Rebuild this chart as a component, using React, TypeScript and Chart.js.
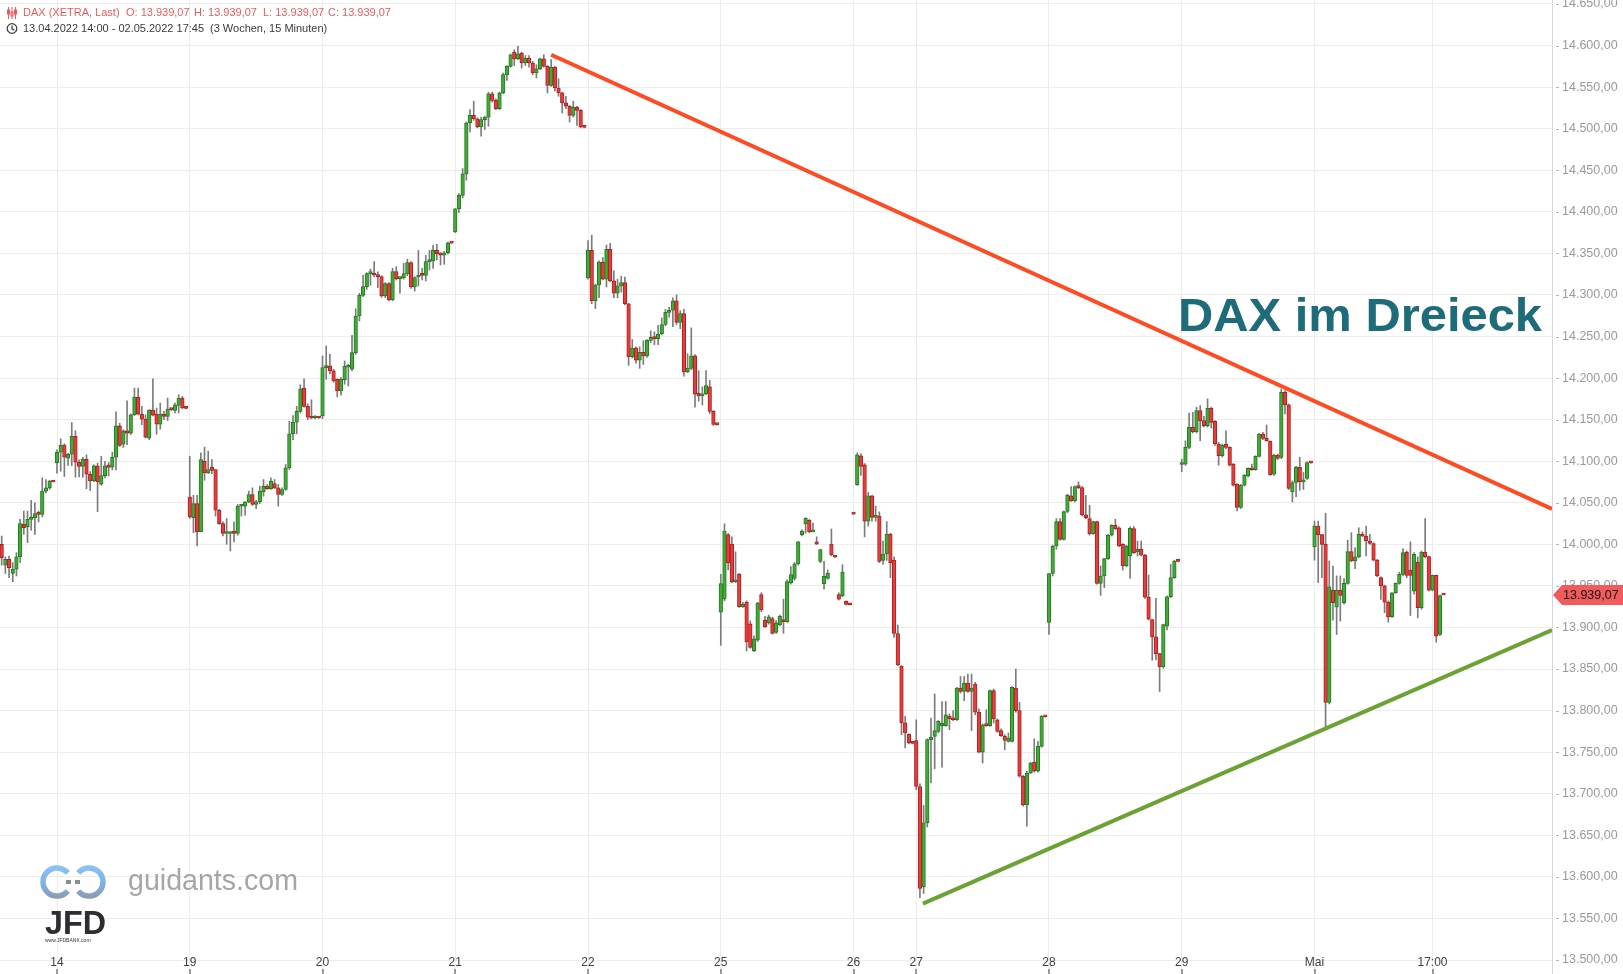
import React, { useEffect, useRef } from 'react';
import { Chart, registerables } from 'chart.js';

Chart.register(...registerables);

// ---- Candles per trading day: [open, high, low, close] (15-minute bars) ----
const d13 = [
  [13975, 13990, 13960, 13985], [14000, 14010, 13975, 13984], [13975, 13985, 13965, 13982], [13982, 13986, 13960, 13972],
  [13965, 13978, 13955, 13970], [13970, 13990, 13962, 13985], [13985, 14030, 13978, 14025], [14024, 14040, 14012, 14020],
  [14021, 14040, 14002, 14030], [14030, 14053, 14017, 14032], [14032, 14050, 14012, 14037], [14037, 14040, 14027, 14036],
  [14036, 14080, 14033, 14064], [14064, 14078, 14062, 14068], [14068, 14077, 14066, 14076], [14076, 14077, 14075, 14075],
];
const d14 = [
  [14098.4, 14113.7, 14085.5, 14110.8], [14110.8, 14127, 14088, 14119.3], [14119.3, 14121, 14081.5, 14104.8], [14103.6, 14109.6, 14094.8, 14108.4],
  [14108.4, 14146.6, 14094.8, 14130], [14130, 14136.5, 14080.7, 14098.8], [14098.8, 14101.6, 14081, 14093.6], [14093.6, 14104.8, 14080.7, 14102.4],
  [14102.4, 14107.6, 14066.7, 14084.3], [14084.3, 14087.5, 14064.7, 14076.7], [14076.7, 14095.6, 14075.5, 14094.4], [14094.4, 14097.6, 14039.4, 14075.5],
  [14072.3, 14106, 14071, 14082.7], [14082.7, 14100, 14080, 14094.4], [14095.6, 14098.4, 14082.3, 14092.4], [14092.8, 14110.8, 14089.6, 14104.8],
  [14104.8, 14159.4, 14089.6, 14142.6], [14142.6, 14145.8, 14117.7, 14118.9], [14120.5, 14137.8, 14116.5, 14136.5], [14136.5, 14172.7, 14120, 14133.7],
  [14133.7, 14157, 14132, 14155.8], [14155.8, 14188, 14155, 14177.1], [14177.1, 14188, 14155.8, 14156.6], [14156.6, 14165.9, 14143.8, 14150.6],
  [14150.6, 14155.8, 14127.7, 14128.9], [14127.7, 14162, 14126, 14161.4], [14161.4, 14199, 14154.6, 14155.4], [14156.6, 14164, 14132.5, 14144.6],
  [14144.6, 14170, 14138.6, 14156.6], [14156.6, 14160, 14150, 14153.8], [14153.8, 14176, 14149, 14162.6], [14162.6, 14163, 14161, 14162],
  [14161, 14170, 14158, 14167.9], [14167, 14180, 14158, 14176], [14176, 14178, 14163, 14164], [14164, 14164.5, 14163, 14163.5],
];
const d19 = [
  [14057, 14106, 14031, 14033], [14032, 14059, 14014, 14049], [14049, 14059, 13998, 14015], [14015, 14110, 14015, 14102],
  [14100, 14117, 14077, 14086], [14086, 14112, 14085, 14090], [14093, 14102, 14085, 14089], [14090, 14090, 14034, 14041],
  [14041, 14042, 14024, 14025], [14025, 14027, 14010, 14013], [14013, 14031, 14000, 14014], [14013, 14015, 13992, 14015],
  [14016, 14027, 14003, 14013], [14013, 14048, 14011, 14046], [14046, 14048, 14034, 14047], [14046, 14051, 14035, 14051],
  [14051, 14064, 14050, 14060], [14060, 14068, 14047, 14048], [14048, 14053, 14043, 14051], [14051, 14070, 14049, 14064],
  [14063, 14078, 14058, 14070], [14070, 14072, 14066, 14067], [14067, 14080, 14066, 14076], [14073, 14078, 14067, 14068],
  [14068, 14072, 14046, 14060], [14060, 14068, 14059, 14066], [14066, 14096, 14065, 14092], [14092, 14148, 14090, 14133],
  [14133, 14155, 14126, 14147], [14147, 14166, 14133, 14160], [14160, 14192, 14158, 14187], [14188, 14199, 14165, 14166],
  [14166, 14169, 14150, 14153], [14153, 14174, 14151, 14152], [14152, 14155, 14151, 14153], [14153, 14153.5, 14151.5, 14152],
];
const d20 = [
  [14154.5, 14226.6, 14151.3, 14212.6], [14212.6, 14238.6, 14198.6, 14214.6], [14214.6, 14228.6, 14205, 14208.6], [14208.6, 14210.6, 14195, 14196.6],
  [14198.6, 14199, 14177.4, 14184.6], [14184.6, 14200.6, 14179.4, 14198.6], [14198.2, 14220.6, 14192.6, 14214.2], [14213, 14216.6, 14190.6, 14214.6],
  [14210.6, 14251.5, 14209, 14230.6], [14230.6, 14283.5, 14228.6, 14274.7], [14274.7, 14302, 14268.7, 14299.5], [14299.5, 14323.6, 14298, 14310],
  [14310, 14326.8, 14306.8, 14325.6], [14325.6, 14331, 14311.6, 14326], [14326, 14340, 14322, 14324], [14324, 14327.8, 14308.8, 14322],
  [14322, 14323, 14297, 14298.7], [14298.7, 14314.8, 14296.7, 14313.6], [14313.6, 14315, 14293, 14294], [14294, 14332, 14293, 14328],
  [14328, 14334, 14318, 14319.6], [14319.6, 14322, 14302, 14321.6], [14320.4, 14338, 14319, 14325.6], [14325.6, 14343, 14323, 14339],
  [14339, 14340, 14308, 14309.6], [14309.6, 14322, 14304.7, 14320.8], [14321.6, 14353.6, 14310.8, 14324], [14324, 14332, 14318, 14323.5],
  [14323.5, 14347.6, 14316.8, 14340], [14340, 14353.6, 14330, 14341], [14341, 14359.6, 14332, 14353.6], [14353.6, 14360.8, 14342, 14349.6],
  [14349.6, 14351, 14336, 14348], [14348, 14352.4, 14336.8, 14350.8], [14350.8, 14363.6, 14349, 14362.8], [14362.8, 14363, 14362, 14362.4],
];
const d21 = [
  [14375.7, 14404, 14375, 14403.7], [14403.7, 14422, 14399, 14419.7], [14419.7, 14452, 14416.9, 14445.7], [14445.7, 14508, 14438, 14507],
  [14507, 14523, 14496, 14516], [14516, 14533, 14510, 14512], [14512, 14513, 14501, 14502], [14502, 14514, 14491, 14511],
  [14511, 14515, 14499, 14514], [14514, 14544, 14503, 14542], [14542, 14544, 14532, 14534], [14534, 14536, 14523, 14524],
  [14524, 14544, 14523, 14543], [14543, 14567, 14542, 14565], [14565, 14576, 14558, 14575], [14575, 14590, 14574, 14589],
  [14592, 14595, 14576, 14584], [14584, 14599, 14583, 14590], [14591, 14592, 14573, 14579], [14579, 14588, 14576, 14585],
  [14585, 14588, 14574, 14579], [14579, 14581, 14565, 14567], [14567, 14577, 14561, 14572], [14572, 14585, 14571, 14584],
  [14584, 14589, 14574, 14575], [14575, 14576, 14543, 14552], [14552, 14583, 14551, 14574], [14574, 14575, 14545, 14549],
  [14549, 14560, 14539, 14543], [14543, 14544, 14519, 14531], [14531, 14539, 14524, 14527], [14527, 14528, 14508, 14516],
  [14516, 14533, 14514, 14526], [14526, 14527, 14504, 14522], [14522, 14523, 14501, 14502], [14502, 14502.5, 14501, 14501.5],
];
const d22 = [
  [14320.5, 14365.5, 14319, 14353.6], [14353.6, 14372, 14289.4, 14293], [14293, 14313, 14283.7, 14312], [14312, 14341, 14296.6, 14339.6],
  [14339.6, 14345, 14318, 14319], [14319, 14360, 14309.6, 14355], [14355, 14362, 14316, 14317], [14317, 14329, 14296.6, 14302],
  [14302, 14319, 14296.6, 14311], [14311, 14322.5, 14303.4, 14315], [14315, 14321.5, 14288, 14289.4], [14289.4, 14290, 14215.3, 14225.7],
  [14225.7, 14246.4, 14224, 14236], [14236, 14237.6, 14218, 14221.5], [14221.5, 14237.6, 14211.7, 14231], [14231, 14245, 14216.4, 14226.7],
  [14226.7, 14246.4, 14225, 14245.4], [14245.4, 14256.8, 14242.8, 14249], [14249, 14255.7, 14240.2, 14247.5], [14247.5, 14263.5, 14240.2, 14253],
  [14253, 14272.3, 14252, 14264.5], [14264.5, 14282.7, 14263, 14279], [14279, 14285, 14273.3, 14281.6], [14281.6, 14296.6, 14262, 14293],
  [14293, 14300, 14264.5, 14267], [14267, 14281, 14259.4, 14277.5], [14277.5, 14282.7, 14202.4, 14207.5], [14207.5, 14229.3, 14206.5, 14211.7],
  [14211.7, 14260.4, 14210, 14226.7], [14226.7, 14228.3, 14165, 14180.6], [14181.6, 14209, 14172.3, 14178.5], [14178.5, 14189.4, 14167.7, 14181],
  [14181, 14209, 14180, 14191], [14189.4, 14197.2, 14157.3, 14160], [14160, 14161, 14143, 14144.4], [14144.4, 14145, 14143.5, 14144],
];
const d25 = [
  [13918.5, 13964, 13878.6, 13952.7], [13934, 14024.7, 13932, 14016], [14011.7, 14013, 13969.3, 13978], [14000.3, 14009, 13953.7, 13954.8],
  [13954.8, 13991, 13954, 13956], [13964, 13965, 13924, 13925], [13925, 13930.4, 13924, 13927.7], [13930.4, 13932, 13871.7, 13882.5],
  [13904.5, 13908, 13875, 13876], [13872, 13890, 13871, 13886.4], [13884.8, 13930.4, 13883, 13929.4], [13939.7, 13941.8, 13919, 13921],
  [13908.7, 13913.3, 13900, 13900.9], [13905.6, 13915, 13904, 13912.8], [13910.8, 13912.3, 13892, 13893], [13894.2, 13908.2, 13893, 13905.6],
  [13903, 13915, 13902, 13913.3], [13908, 13934, 13893, 13907], [13907, 13957.4, 13906, 13955.3], [13953.7, 13973.4, 13952, 13963.6],
  [13958.9, 13978, 13957, 13976.6], [13976.6, 14003.5, 13975, 14002.9], [14011.7, 14017.5, 14010, 14015.9], [14024.7, 14032, 14013.3, 14031.4],
  [14028.8, 14030, 14014, 14015], [14015, 14025.7, 14015, 14015.9], [14003, 14009, 14000, 14000.3], [13979.6, 13994, 13978, 13993.6],
  [13952.7, 13979.6, 13946, 13961.6], [13959, 13969.3, 13958, 13965.2], [14000.3, 14018.5, 13986, 13987.4], [13985, 13985.5, 13984, 13984.8],
  [13939.7, 13941.8, 13933, 13934], [13938.2, 13975.5, 13937, 13966.7], [13931.5, 13932, 13927, 13927.7], [13927.7, 13928, 13927, 13927.3],
];
const d26 = [
  [14037, 14037.5, 14036, 14036.3], [14071.8, 14110, 14071, 14107.6], [14106.5, 14109, 14083, 14093.6], [14095.7, 14097.2, 14009, 14027.8],
  [14027.8, 14062.5, 14022, 14058.4], [14058.4, 14059, 14027.8, 14032.5], [14032.5, 14046, 14027.8, 14034], [14034, 14039, 13978, 13979.6],
  [13980.7, 14004, 13976, 13988.4], [13988.4, 14027.3, 13980.7, 14012.3], [14012.3, 14013.3, 13960, 13978], [13981.2, 13985, 13888, 13893],
  [13892.6, 13903, 13854, 13855], [13853.7, 13854, 13770.9, 13785.3], [13785.3, 13793, 13755.3, 13773.3], [13771.4, 13772, 13760, 13761],
  [13761, 13761.5, 13760, 13760.5],
];
const d27 = [
  [13764, 13789, 13705, 13708.7], [13708.7, 13712, 13575, 13586], [13588, 13686, 13580, 13665], [13665, 13766, 13660, 13765],
  [13765, 13791, 13713, 13768], [13769, 13820, 13730, 13776], [13775, 13788, 13773, 13787], [13782, 13811, 13732, 13785],
  [13782, 13811, 13781, 13795], [13793, 13796, 13777, 13790], [13790, 13800, 13788, 13789], [13789, 13828, 13788, 13827],
  [13827, 13841, 13821, 13823], [13823, 13841, 13812, 13833], [13833, 13844, 13822, 13823], [13823, 13844, 13776, 13827],
  [13832, 13834, 13795, 13798], [13798, 13802, 13749, 13750], [13750, 13784, 13737, 13783], [13783, 13801, 13781, 13782],
  [13782, 13825, 13781, 13824], [13824, 13826, 13785, 13790], [13789, 13790, 13774, 13775], [13776, 13778, 13769, 13770],
  [13769, 13771, 13753, 13764], [13763, 13773, 13762, 13767], [13763, 13829, 13762, 13828], [13827, 13850, 13798, 13800],
  [13800, 13810, 13720, 13721], [13721, 13722, 13685, 13686.5], [13686.5, 13727, 13661, 13725], [13725, 13738, 13724, 13737],
  [13738, 13766, 13726, 13727], [13727, 13763, 13726, 13757], [13757, 13794, 13756, 13793], [13793, 13793.5, 13792, 13792.5],
];
const d28 = [
  [13906, 13965, 13891.5, 13964.7], [13965, 13999, 13962, 13998], [13998, 14031, 13994, 14027.4], [14027.4, 14031, 14005, 14006],
  [14006, 14040, 14005, 14039.5], [14039.5, 14060.4, 14038, 14059], [14058.3, 14069.6, 14051.5, 14052.3], [14052.3, 14070.4, 14051, 14069.6],
  [14069.6, 14075.2, 14067, 14068.3], [14068.4, 14069.6, 14034, 14035.4], [14035.4, 14059, 14031, 14032], [14031, 14047, 14011, 14012.9],
  [14012.9, 14028, 14012, 14027.4], [14027.4, 14028, 13952, 13953], [13953, 13974, 13938.6, 13961.9], [13961.9, 13983, 13947.8, 13982.8],
  [13982.8, 14012, 13982, 14010.9], [14010.9, 14023.8, 14010, 14023], [14023, 14030.2, 14018, 14019], [14020, 14021, 13997, 13998],
  [14000, 14001, 13969, 13974], [13974, 13999, 13973, 13998], [13986, 14021, 13959, 14019.4], [14019, 14021.4, 13989, 13990],
  [13991, 14004, 13986, 13994], [13994, 14004, 13986, 13987], [13987, 13988, 13935, 13936.5], [13936.5, 13963, 13909, 13910],
  [13909.6, 13910, 13860.6, 13888.7], [13888.7, 13935, 13861, 13868.6], [13868.6, 13869, 13823, 13852.5], [13852.5, 13904, 13851, 13903.6],
  [13901.6, 13938, 13897, 13937], [13937, 13976, 13936, 13960], [13960, 13981, 13959, 13980], [13980, 13980.5, 13979, 13979.5],
];
const d29 = [
  [14096, 14102.6, 14087.3, 14098.5], [14096.5, 14124.6, 14095, 14116.6], [14116.6, 14158, 14115, 14140.8], [14140.8, 14158.8, 14134, 14135.5],
  [14135.5, 14165, 14134, 14160.8], [14160.8, 14167, 14124.6, 14148.8], [14148.8, 14154, 14141, 14142.8], [14142.8, 14175, 14141, 14163.7],
  [14163.7, 14165, 14140, 14146.8], [14148, 14149, 14119, 14120.7], [14120.7, 14122.7, 14095.3, 14106.6], [14106.6, 14120.7, 14105, 14119.5],
  [14120.7, 14136.7, 14115, 14116.6], [14116.6, 14117.4, 14094, 14095.3], [14096.5, 14097.3, 14070, 14071.2], [14072.4, 14073, 14040.3, 14044.3],
  [14044.3, 14072, 14043, 14071.2], [14071.2, 14084, 14070, 14083.3], [14082.5, 14092, 14081, 14091.3], [14091.3, 14096.5, 14089, 14089.7],
  [14089.7, 14106.5, 14089, 14105.8], [14105.8, 14133.4, 14105, 14132.7], [14132.7, 14134.7, 14126, 14127.5], [14127.5, 14143.6, 14124, 14124.7],
  [14123.9, 14124.5, 14083, 14083.7], [14084.5, 14108.6, 14083, 14107.4], [14107.4, 14108.6, 14102, 14103.4], [14104.6, 14187, 14103, 14183],
  [14183, 14185, 14156.8, 14167.7], [14167.7, 14169, 14066, 14067.2], [14063.2, 14076.4, 14051, 14074.4], [14074.4, 14093.7, 14057.5, 14092.5],
  [14092.5, 14104.6, 14065, 14075.2], [14075.2, 14086.5, 14066, 14076.4], [14079.2, 14099.4, 14078, 14098.5], [14098.5, 14099, 14097.5, 14098],
];
const dMai = [
  [13996.9, 14028, 13981, 14022], [14022, 14028, 13954, 14011.7], [14011.7, 14012, 13960, 14000], [14000, 14037.4, 13779, 13810],
  [13810, 13980, 13808, 13949], [13945, 13974, 13908.8, 13929.7], [13924.5, 13962, 13891.6, 13945], [13945, 13962, 13907.6, 13938.5],
  [13929.7, 13958.7, 13928, 13953], [13953, 14005, 13952, 13991.2], [13991.2, 14014, 13979, 13980], [13980, 13996, 13970.7, 13985],
  [13985, 14020, 13984, 14012], [14012, 14015, 14009, 14010], [14010, 14022, 13986, 14004], [14004, 14012, 14000, 14001],
  [14001, 14002, 13980, 13981], [13981, 13982, 13961, 13962], [13960, 13961, 13933.7, 13950], [13950, 13951, 13917.7, 13930.5],
  [13930.5, 13932, 13906.4, 13912.8], [13912.8, 13942, 13912, 13941.8], [13941.8, 13953.5, 13941, 13953], [13953, 13966.6, 13952, 13963.9],
  [13963.9, 13995, 13962, 13990], [13990.8, 13992, 13960, 13962.7], [13969, 14003, 13914.4, 13962.7], [13943.8, 13990, 13940, 13988],
  [13978.7, 13985, 13911.6, 13923.7], [13923.7, 13992, 13922, 13990.8], [13990.8, 14031, 13984, 13985.2], [13985.2, 13986, 13944, 13945],
  [13945, 13963, 13944, 13962.7], [13962.7, 13963, 13882.3, 13889.5], [13891.5, 13939, 13890, 13938.5], [13939.07, 13939.07, 13939.07, 13939.07],
];

const tradingDays = [d13, d14, d19, d20, d21, d22, d25, d26, d27, d28, d29, dMai];

// ---- Axis ticks ----
const xTickLabels = ['14', '19', '20', '21', '22', '25', '26', '27', '28', '29', 'Mai', '17:00'];
const xTickBars = [16, 52, 88, 124, 160, 196, 232, 249, 285, 321, 357, 389];
const yTickValues = [
  13500, 13550, 13600, 13650, 13700, 13750, 13800, 13850, 13900, 13950, 14000, 14050,
  14100, 14150, 14200, 14250, 14300, 14350, 14400, 14450, 14500, 14550, 14600, 14650,
];

// ---- Trend lines (bar index, price) ----
const resistanceLine = [{ x: 150, y: 14589 }, { x: 421.4, y: 14042.5 }];
const supportLine = [{ x: 250.8, y: 13567.8 }, { x: 421.4, y: 13897 }];

const X_MIN = 0.543;
const X_MAX = 421.4;
const Y_MIN = 13483.16;
const Y_MAX = 14654.81;

const headerName = 'DAX (XETRA, Last)';
const headerRange = '13.04.2022 14:00 - 02.05.2022 17:45';
const headerPeriod = '(3 Wochen, 15 Minuten)';
const titleText = 'DAX im Dreieck';

const candles = tradingDays.flat();

const fmt = (v: number) => {
  const [i, d] = v.toFixed(2).split('.');
  return i.replace(/\B(?=(\d{3})+(?!\d))/g, '.') + ',' + d;
};

const GREEN_FILL = '#42ab37';
const GREEN_EDGE = '#267a22';
const RED_FILL = '#e63d3d';
const RED_EDGE = '#b01f1f';

const FONT = '"Liberation Sans", Arial, sans-serif';

const overlayPlugin = {
  id: 'overlay',
  afterDraw(chart: any) {
    const ctx = chart.ctx as CanvasRenderingContext2D;
    const xs = chart.scales.x;
    const ys = chart.scales.y;
    const area = chart.chartArea;
    ctx.save();

    // y-axis small tick marks
    ctx.strokeStyle = '#b5b5b5';
    ctx.lineWidth = 1;
    yTickValues.forEach((v) => {
      const py = Math.round(ys.getPixelForValue(v)) + 0.5;
      ctx.beginPath();
      ctx.moveTo(area.right + 4, py);
      ctx.lineTo(area.right + 7, py);
      ctx.stroke();
    });

    // x-axis labels (inside plot, at bottom) and tick marks
    ctx.font = '12px ' + FONT;
    ctx.fillStyle = '#404040';
    ctx.textAlign = 'center';
    ctx.textBaseline = 'middle';
    xTickBars.forEach((b, k) => {
      const px = xs.getPixelForValue(b);
      ctx.fillText(xTickLabels[k], px, chart.height - 11);
      ctx.fillRect(Math.round(px) - 0.5, chart.height - 5, 1, 5);
    });

    // price tag
    const last = candles[candles.length - 1];
    const py = ys.getPixelForValue(last[3]);
    const left = area.right + 1;
    ctx.fillStyle = '#f15b5b';
    ctx.beginPath();
    ctx.moveTo(left, py);
    ctx.lineTo(left + 9, py - 10);
    ctx.lineTo(chart.width, py - 10);
    ctx.lineTo(chart.width, py + 10);
    ctx.lineTo(left + 9, py + 10);
    ctx.closePath();
    ctx.fill();
    ctx.fillStyle = '#141414';
    ctx.font = '12.5px ' + FONT;
    ctx.textAlign = 'left';
    ctx.textBaseline = 'middle';
    ctx.fillText(fmt(last[3]), left + 10, py + 0.5);

    // header line 1
    ctx.font = '11px ' + FONT;
    ctx.fillStyle = '#ee5a5a';
    ctx.fillText(headerName, 23, 13);
    ctx.fillText('O: ' + fmt(last[0]), 126, 13);
    ctx.fillText('H: ' + fmt(last[1]), 194, 13);
    ctx.fillText('L: ' + fmt(last[2]), 263, 13);
    ctx.fillText('C: ' + fmt(last[3]), 328, 13);
    // candle icon
    ctx.strokeStyle = '#ee5a5a';
    ctx.lineWidth = 1;
    [8, 11.5, 15].forEach((cx, k) => {
      ctx.beginPath();
      ctx.moveTo(cx + 0.5, 7);
      ctx.lineTo(cx + 0.5, 19);
      ctx.stroke();
      ctx.strokeRect(cx - 0.5, 10 + (k % 2) * 2, 2, 4);
    });
    // header line 2
    ctx.fillStyle = '#3a3a3a';
    ctx.fillText(headerRange, 23, 29);
    ctx.fillText(headerPeriod, 210, 29);
    ctx.strokeStyle = '#3a3a3a';
    ctx.lineWidth = 1.2;
    ctx.beginPath();
    ctx.arc(12, 28.5, 4.8, 0, Math.PI * 2);
    ctx.stroke();
    ctx.beginPath();
    ctx.moveTo(12, 25.5);
    ctx.lineTo(12, 28.8);
    ctx.lineTo(14.3, 30.2);
    ctx.stroke();

    // title
    ctx.font = 'bold 47px ' + FONT;
    ctx.fillStyle = '#1e6b79';
    ctx.textAlign = 'left';
    ctx.textBaseline = 'alphabetic';
    const tw = ctx.measureText(titleText).width;
    ctx.save();
    ctx.translate(1178, 331);
    ctx.scale(364 / tw, 1);
    ctx.fillText(titleText, 0, 0);
    ctx.restore();

    // watermark logo
    const grad = ctx.createLinearGradient(0, 866, 0, 898);
    grad.addColorStop(0, '#8cc2f7');
    grad.addColorStop(0.55, '#7eb1e6');
    grad.addColorStop(1, '#8c9bb0');
    ctx.strokeStyle = grad;
    ctx.lineWidth = 5.5;
    ctx.beginPath();
    ctx.arc(57, 882, 14, 0.22 * Math.PI, 1.78 * Math.PI);
    ctx.stroke();
    ctx.beginPath();
    ctx.arc(89, 882, 14, 1.22 * Math.PI, 0.78 * Math.PI);
    ctx.stroke();
    ctx.fillStyle = '#8a8f96';
    ctx.fillRect(66, 880, 5, 4);
    ctx.fillRect(75, 880, 5, 4);

    ctx.font = '29px ' + FONT;
    ctx.fillStyle = '#a6a6a6';
    const gw = ctx.measureText('guidants.com').width;
    ctx.save();
    ctx.translate(128, 890);
    ctx.scale(170 / gw, 1);
    ctx.fillText('guidants.com', 0, 0);
    ctx.restore();

    ctx.font = 'bold 34px ' + FONT;
    ctx.fillStyle = '#2b2d30';
    const jw = ctx.measureText('JFD').width;
    ctx.save();
    ctx.translate(45, 934);
    ctx.scale(61 / jw, 1);
    ctx.fillText('JFD', 0, 0);
    ctx.restore();
    ctx.font = '5px ' + FONT;
    ctx.fillStyle = '#333';
    ctx.fillText('www.JFDBANK.com', 45, 942);

    ctx.restore();
  },
};

export default function App() {
  const canvasRef = useRef<HTMLCanvasElement | null>(null);

  useEffect(() => {
    const canvas = canvasRef.current;
    if (!canvas) return;
    const colorOf = (i: number, fill: boolean) => {
      const c = candles[i];
      const up = c && c[3] > c[0];
      if (fill) return up ? GREEN_FILL : RED_FILL;
      return up ? GREEN_EDGE : RED_EDGE;
    };
    const chart = new Chart(canvas, {
      type: 'bar',
      data: {
        datasets: [
          {
            type: 'line',
            data: resistanceLine,
            borderColor: '#ff4a22',
            borderWidth: 4,
            pointRadius: 0,
            fill: false,
            tension: 0,
            order: 0,
          } as any,
          {
            type: 'line',
            data: supportLine,
            borderColor: '#6ba234',
            borderWidth: 4,
            pointRadius: 0,
            fill: false,
            tension: 0,
            order: 0,
          } as any,
          {
            type: 'bar',
            data: candles.map((c, i) => ({ x: i, y: [c[0], c[3]] })),
            backgroundColor: (ctx: any) => colorOf(ctx.dataIndex, true),
            borderColor: (ctx: any) => colorOf(ctx.dataIndex, false),
            borderWidth: 1,
            borderSkipped: false,
            barThickness: 3.6,
            minBarLength: 2,
            grouped: false,
            order: 1,
          } as any,
          {
            type: 'bar',
            data: candles.map((c, i) => ({ x: i, y: [c[2], c[1]] })),
            backgroundColor: '#7c7c7c',
            borderWidth: 0,
            barThickness: 1,
            grouped: false,
            order: 2,
          } as any,
        ],
      },
      options: {
        animation: false,
        responsive: false,
        maintainAspectRatio: false,
        layout: { padding: 0 },
        events: [],
        plugins: { legend: { display: false }, tooltip: { enabled: false }, title: { display: false } },
        scales: {
          x: {
            type: 'linear',
            min: X_MIN,
            max: X_MAX,
            offset: false,
            afterBuildTicks: (s: any) => {
              s.ticks = xTickBars.map((v) => ({ value: v }));
            },
            afterFit: (s: any) => {
              s.height = 0;
              s.paddingLeft = 0;
              s.paddingRight = 0;
            },
            ticks: { display: false },
            grid: { color: '#ececec', drawTicks: false, offset: false, lineWidth: 1 },
            border: { display: false },
          },
          y: {
            type: 'linear',
            position: 'right',
            min: Y_MIN,
            max: Y_MAX,
            beginAtZero: false,
            afterBuildTicks: (s: any) => {
              s.ticks = yTickValues.map((v) => ({ value: v }));
            },
            afterFit: (s: any) => {
              s.width = 71;
              s.paddingTop = 0;
              s.paddingBottom = 0;
            },
            ticks: {
              padding: 10,
              color: '#9a9a9a',
              font: { family: FONT, size: 12.5 },
              callback: (v: any) => fmt(Number(v)),
              autoSkip: false,
            },
            grid: { color: '#ececec', drawTicks: false, lineWidth: 1 },
            border: { display: true, color: '#d6d6d6' },
          },
        },
      } as any,
      plugins: [overlayPlugin],
    });
    return () => chart.destroy();
  }, []);

  return (
    <div style={{ position: 'fixed', left: 0, top: 0, width: 1623, height: 974, background: '#ffffff' }}>
      <canvas ref={canvasRef} width={1623} height={974} style={{ display: 'block' }} />
    </div>
  );
}
